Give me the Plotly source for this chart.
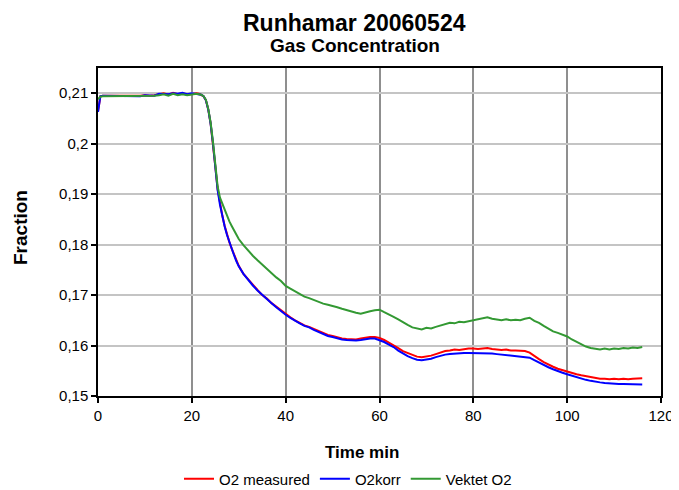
import plotly.graph_objects as go

time_min = [0, 0.5, 1, 2, 3, 4, 5, 6, 7, 8, 9, 10, 11, 12, 13, 14, 15, 16, 17, 18, 19, 20, 21,
            21.5, 22, 22.5, 23, 23.5, 24, 24.5, 25, 25.5, 26, 26.5, 27, 27.5, 28, 28.5, 29, 29.5, 30,
            31, 32, 33, 34, 35, 36, 37, 38, 39, 40, 41, 42, 43, 44, 45, 46, 47, 48, 49, 50,
            51, 52, 53, 54, 55, 56, 57, 58, 59, 60, 61, 62, 63, 64, 65, 66, 67, 68, 69, 70,
            71, 72, 73, 74, 75, 76, 77, 78, 79, 80, 81, 82, 83, 84, 85, 86, 87, 88, 89, 90,
            91, 92, 93, 94, 95, 96, 97, 98, 99, 100, 101, 102, 103, 104, 105, 106, 107, 108, 109, 110,
            111, 112, 113, 114, 115, 116]

o2_measured = [0.2063, 0.2094, 0.2095, 0.2095, 0.2094, 0.2095, 0.2095, 0.2094, 0.2095, 0.2095, 0.2095, 0.2096, 0.2095, 0.2096, 0.2098, 0.2100, 0.2097, 0.2101, 0.2098, 0.2100, 0.2097, 0.2099, 0.2100,
               0.2099, 0.2097, 0.2094, 0.2086, 0.2068, 0.2040, 0.2002, 0.1955, 0.1910, 0.1880, 0.1857, 0.1837, 0.1820, 0.1805, 0.1792, 0.1780, 0.1768, 0.1758,
               0.1742, 0.1731, 0.1719, 0.1710, 0.1700, 0.1693, 0.1684, 0.1677, 0.1669, 0.1662, 0.1656, 0.1650, 0.1645, 0.1640, 0.1637, 0.1633, 0.1629, 0.1624, 0.1621, 0.1619,
               0.1616, 0.1614, 0.1613, 0.1612, 0.1612, 0.1614, 0.1616, 0.1617, 0.1617, 0.1615, 0.1611, 0.1606, 0.1601, 0.1595, 0.1589, 0.1585, 0.1581, 0.1578, 0.1577, 0.1578,
               0.1580, 0.1583, 0.1586, 0.1589, 0.1590, 0.1592, 0.1591, 0.1593, 0.1594, 0.1594, 0.1593, 0.1594, 0.1595, 0.1593, 0.1592, 0.1591, 0.1592, 0.1590, 0.1590, 0.1589,
               0.1589, 0.1586, 0.1579, 0.1573, 0.1567, 0.1562, 0.1558, 0.1554, 0.1551, 0.1548, 0.1546, 0.1543, 0.1541, 0.1539, 0.1537, 0.1535, 0.1534, 0.1534, 0.1533, 0.1534,
               0.1533, 0.1534, 0.1533, 0.1534, 0.1534, 0.1535]

o2_korr = [0.2063, 0.2094, 0.2095, 0.2095, 0.2095, 0.2095, 0.2094, 0.2095, 0.2095, 0.2095, 0.2094, 0.2096, 0.2096, 0.2095, 0.2099, 0.2099, 0.2098, 0.2100, 0.2099, 0.2101, 0.2098, 0.2100, 0.2099,
           0.2099, 0.2097, 0.2094, 0.2086, 0.2068, 0.2040, 0.2001, 0.1953, 0.1908, 0.1879, 0.1856, 0.1836, 0.1819, 0.1804, 0.1791, 0.1779, 0.1767, 0.1757,
           0.1742, 0.1730, 0.1719, 0.1709, 0.1700, 0.1692, 0.1684, 0.1676, 0.1668, 0.1661, 0.1655, 0.1649, 0.1644, 0.1639, 0.1636, 0.1631, 0.1627, 0.1622, 0.1619, 0.1617,
           0.1614, 0.1612, 0.1611, 0.1610, 0.1610, 0.1611, 0.1613, 0.1614, 0.1614, 0.1611, 0.1607, 0.1602, 0.1597, 0.1590, 0.1584, 0.1579, 0.1575, 0.1572, 0.1571, 0.1572,
           0.1574, 0.1577, 0.1580, 0.1582, 0.1583, 0.1584, 0.1584, 0.1585, 0.1585, 0.1585, 0.1585, 0.1584, 0.1585, 0.1584, 0.1583, 0.1582, 0.1582, 0.1581, 0.1580, 0.1579,
           0.1578, 0.1576, 0.1571, 0.1566, 0.1561, 0.1557, 0.1553, 0.1549, 0.1546, 0.1543, 0.1540, 0.1537, 0.1534, 0.1532, 0.1530, 0.1528, 0.1527, 0.1526, 0.1525, 0.1525,
           0.1524, 0.1524, 0.1524, 0.1523, 0.1523, 0.1523]

vektet_o2 = [0.2088, 0.2093, 0.2094, 0.2094, 0.2094, 0.2094, 0.2095, 0.2094, 0.2094, 0.2095, 0.2094, 0.2095, 0.2095, 0.2095, 0.2096, 0.2098, 0.2095, 0.2099, 0.2096, 0.2098, 0.2096, 0.2097, 0.2099,
             0.2098, 0.2097, 0.2094, 0.2087, 0.2069, 0.2042, 0.2004, 0.1958, 0.1915, 0.1893, 0.1881, 0.1868, 0.1856, 0.1846, 0.1837, 0.1829, 0.1820, 0.1811,
             0.1799, 0.1788, 0.1778, 0.1769, 0.1760, 0.1752, 0.1743, 0.1735, 0.1728, 0.1718, 0.1713, 0.1708, 0.1703, 0.1697, 0.1694, 0.1690, 0.1687, 0.1683, 0.1681, 0.1679,
             0.1676, 0.1673, 0.1670, 0.1668, 0.1665, 0.1663, 0.1666, 0.1668, 0.1670, 0.1671, 0.1666, 0.1662, 0.1657, 0.1652, 0.1646, 0.1641, 0.1636, 0.1634, 0.1632, 0.1635,
             0.1634, 0.1637, 0.1640, 0.1643, 0.1645, 0.1644, 0.1647, 0.1646, 0.1648, 0.1649, 0.1651, 0.1654, 0.1656, 0.1653, 0.1651, 0.1650, 0.1652, 0.1650, 0.1651, 0.1650,
             0.1653, 0.1655, 0.1649, 0.1645, 0.1639, 0.1633, 0.1628, 0.1625, 0.1621, 0.1618, 0.1612, 0.1607, 0.1602, 0.1598, 0.1595, 0.1593, 0.1592, 0.1594, 0.1592, 0.1594,
             0.1593, 0.1595, 0.1594, 0.1596, 0.1595, 0.1597]

x_ticks = [0, 20, 40, 60, 80, 100, 120]
y_ticks = [0.15, 0.16, 0.17, 0.18, 0.19, 0.20, 0.21]
y_tick_labels = ["0,15", "0,16", "0,17", "0,18", "0,19", "0,2", "0,21"]

series_names = ["O2 measured", "O2korr", "Vektet O2"]
series_colors = ["#ff0000", "#0000ff", "#339933"]

FONT = "Liberation Sans, Arial, sans-serif"

fig = go.Figure()
for name, vals, col in zip(series_names, [o2_measured, o2_korr, vektet_o2], series_colors):
    fig.add_trace(go.Scatter(x=time_min, y=vals, mode="lines", name=name,
                             line=dict(color=col, width=2)))

# The page body has an 8px margin, so the figure is drawn 8px right/down of the window corner.
OFF = 8
W, H = 679 - OFF, 490 - OFF
PL, PR, PT, PB = 98, 661, 68, 396  # plot edges in window pixels
L, R, T, B = PL - OFF, W - (PR - OFF), PT - OFF, H - (PB - OFF)
pw, ph = W - L - R, H - T - B

def px_x(p):
    return (p - OFF - L) / pw

def px_y(p):
    return (H - B - (p - OFF)) / ph

fig.update_layout(
    width=W, height=H,
    margin=dict(l=L, r=R, t=T, b=B, autoexpand=False),
    paper_bgcolor="white", plot_bgcolor="white",
    font=dict(family=FONT, color="black", size=14),
    showlegend=True,
    legend=dict(orientation="h", x=px_x(348), xanchor="center", y=px_y(479), yanchor="middle",
                font=dict(size=15, family=FONT), itemwidth=30, tracegroupgap=0,
                bgcolor="rgba(0,0,0,0)"),
    xaxis=dict(range=[0, 120], tickvals=x_ticks, ticks="outside", ticklen=5, tickwidth=1.5,
               tickcolor="black", showline=True, linecolor="black", linewidth=1.5, mirror=True,
               showgrid=True, gridcolor="#8f8f8f", gridwidth=2, zeroline=False,
               tickfont=dict(size=15, family=FONT)),
    yaxis=dict(range=[0.15, 0.215], tickvals=y_ticks, ticktext=y_tick_labels, ticks="outside",
               ticklen=5, tickwidth=1.5, tickcolor="black", showline=True, linecolor="black",
               linewidth=1.5, mirror=True, showgrid=True, gridcolor="#c4c4c4", gridwidth=2,
               zeroline=False, tickfont=dict(size=15, family=FONT)),
    annotations=[
        dict(text="<b>Runhamar 20060524</b>", x=px_x(354), y=px_y(23), xref="paper", yref="paper",
             xanchor="center", yanchor="middle", showarrow=False, font=dict(size=23, family=FONT)),
        dict(text="<b>Gas Concentration</b>", x=px_x(355), y=px_y(45), xref="paper", yref="paper",
             xanchor="center", yanchor="middle", showarrow=False, font=dict(size=19, family=FONT)),
        dict(text="<b>Fraction</b>", x=px_x(20), y=px_y(228), xref="paper", yref="paper",
             xanchor="center", yanchor="middle", textangle=-90, showarrow=False,
             font=dict(size=19, family=FONT)),
        dict(text="<b>Time min</b>", x=px_x(362), y=px_y(452), xref="paper", yref="paper",
             xanchor="center", yanchor="middle", showarrow=False, font=dict(size=17, family=FONT)),
    ],
)

fig.write_html("out.html")
